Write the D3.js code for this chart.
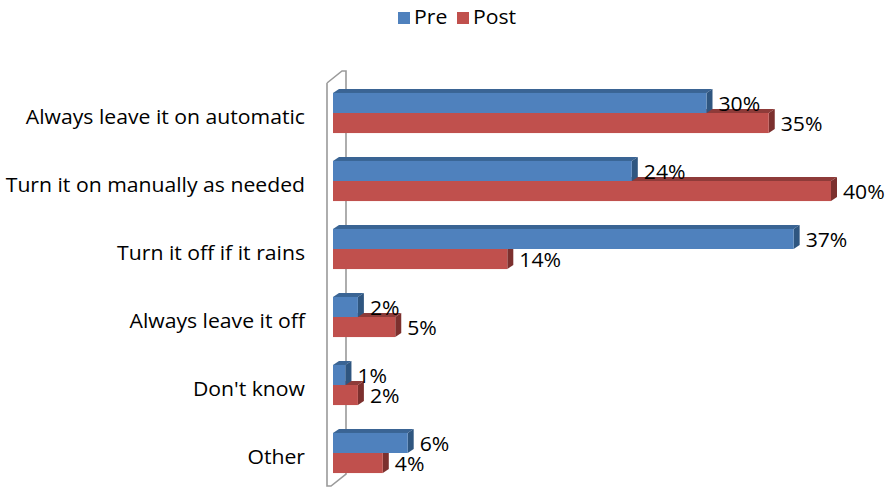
<!DOCTYPE html>
<html>
<head>
<meta charset="utf-8">
<script src="https://cdn.jsdelivr.net/npm/d3@7"></script>
<style>
  html, body { margin: 0; padding: 0; background: #fff; }
  svg { display: block; font-family: "Open Sans", sans-serif; }
</style>
</head>
<body>
<svg id="chart" width="885" height="492"></svg>
<script>
// Survey answers, before (Pre) and after (Post)
const categories = [
  "Always leave it on automatic",
  "Turn it on manually as needed",
  "Turn it off if it rains",
  "Always leave it off",
  "Don't know",
  "Other"
];
const seriesNames = ["Pre", "Post"];
const preValues  = [30, 24, 37, 2, 1, 6];
const postValues = [35, 40, 14, 5, 2, 4];

const colors = {
  Pre:  { front: "#4F81BD", top: "#3A6494", side: "#2F5680" },
  Post: { front: "#C0504D", top: "#8E3B39", side: "#7C302E" }
};

const svg = d3.select("#chart");
const fontSize = 19.5;
const widen = 1.086; // text is set slightly wide

function stretch(sel) {
  sel.each(function () {
    const w = this.getComputedTextLength();
    d3.select(this).attr("textLength", w * widen).attr("lengthAdjust", "spacingAndGlyphs");
  });
}

// 3D depth of bars and of the wall
const dx = 6, dy = 4;
const wallDx = 15, wallDy = 12, wallThick = 4;

const x = d3.scaleLinear().domain([0, 40]).range([333, 831]);
const y = d3.scaleBand().domain(categories).range([79, 487])
  .paddingInner(0.41).paddingOuter(0.205);
const ySub = d3.scaleBand().domain(seriesNames).range([0, y.bandwidth()]);

const rows = categories.map((c, i) => ({ cat: c, Pre: preValues[i], Post: postValues[i] }));

// Back wall (slab along the category axis)
const x0 = x(0);
const wTop = y.range()[0] + 4, wBot = y.range()[1] - 1;
const wall = svg.append("g").attr("fill", "none").attr("stroke", "#9a9a9a").attr("stroke-width", 1.6);
wall.append("path").attr("d",
  `M${x0 - 6},${wTop} L${x0 - 6},${wBot} L${x0 - 6 + wallThick},${wBot} L${x0 - 6 + wallThick + wallDx},${wBot - wallDy}` +
  ` L${x0 - 6 + wallThick + wallDx},${wTop - wallDy} L${x0 - 6 + wallDx},${wTop - wallDy} L${x0 - 6},${wTop}`);

// Bars: Post first, then Pre on top of it
const bars = svg.append("g");
rows.forEach(r => {
  ["Post", "Pre"].forEach(s => {
    const v = r[s];
    const xl = x(0), xr = x(v);
    const yt = y(r.cat) + ySub(s), h = ySub.bandwidth();
    const c = colors[s];
    const g = bars.append("g");
    g.append("path").attr("fill", c.top)
      .attr("d", `M${xl},${yt} L${xl + dx},${yt - dy} L${xr + dx},${yt - dy} L${xr},${yt} Z`);
    g.append("path").attr("fill", c.side)
      .attr("d", `M${xr},${yt} L${xr + dx},${yt - dy} L${xr + dx},${yt + h - dy} L${xr},${yt + h} Z`);
    g.append("rect").attr("fill", c.front)
      .attr("x", xl).attr("y", yt).attr("width", xr - xl).attr("height", h);
  });
});

// Value labels
const labels = svg.append("g").attr("font-size", fontSize).attr("fill", "#000");
rows.forEach(r => {
  seriesNames.forEach(s => {
    const v = r[s];
    labels.append("text")
      .attr("x", x(v) + dx + 6)
      .attr("y", y(r.cat) + ySub(s) + ySub.bandwidth() / 2 + 3)
      .attr("dominant-baseline", "middle")
      .text(v + "%")
      .call(stretch);
  });
});

// Category labels
const catAxis = svg.append("g").attr("font-size", fontSize).attr("fill", "#000");
categories.forEach(c => {
  catAxis.append("text")
    .attr("x", 305)
    .attr("y", y(c) + y.bandwidth() / 2 + 6)
    .attr("text-anchor", "end")
    .attr("dominant-baseline", "middle")
    .text(c)
    .call(stretch);
});

// Legend
const legend = svg.append("g").attr("font-size", fontSize);
const legendPos = { Pre: 398, Post: 457 };
seriesNames.forEach(s => {
  legend.append("rect").attr("x", legendPos[s]).attr("y", 12).attr("width", 12).attr("height", 12)
    .attr("fill", colors[s].front);
  legend.append("text").attr("x", legendPos[s] + 16).attr("y", 19)
    .attr("dominant-baseline", "middle").text(s)
    .call(stretch);
});
</script>
</body>
</html>
